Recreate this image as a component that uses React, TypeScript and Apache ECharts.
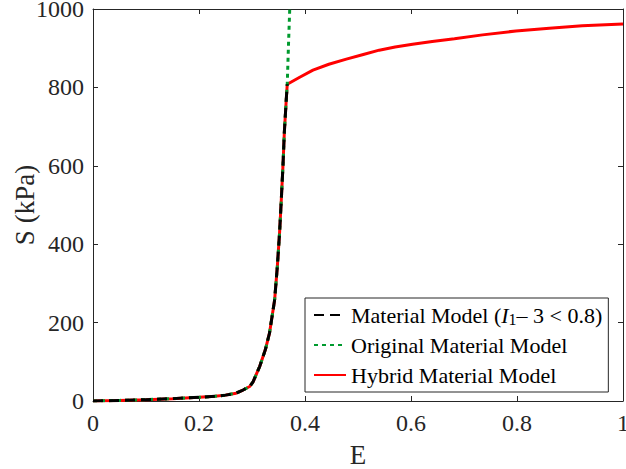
import React, { useEffect, useRef } from "react";
import * as echarts from "echarts";

// Shared part of the curve (Material Model, valid for I1 - 3 < 0.8)
const strainBase = [0, 0.05, 0.1, 0.15, 0.2, 0.23, 0.25, 0.27, 0.283, 0.2957, 0.302, 0.3145, 0.325, 0.333, 0.3427, 0.3478, 0.352, 0.3553, 0.3584, 0.361, 0.3647, 0.3665];
const stressBase = [0, 1.5, 3.5, 6, 9.4, 12, 15, 20, 28, 37, 49, 88, 130, 173, 258, 343, 429, 514, 599, 685, 770, 808];

// Original material model continues steeply
const strainOriginalTail = [0.369, 0.3712];
const stressOriginalTail = [915, 1000];

// Hybrid material model saturates
const strainHybridTail = [0.39, 0.415, 0.445, 0.478, 0.51, 0.54, 0.57, 0.603, 0.64, 0.682, 0.735, 0.798, 0.861, 0.923, 1.0];
const stressHybridTail = [826, 844, 859, 872, 884, 895, 903, 910, 917, 924, 934, 944, 951, 957, 962];

const xTicks = [0, 0.2, 0.4, 0.6, 0.8, 1];
const yTicks = [0, 200, 400, 600, 800, 1000];

const seriesNames = ["Material Model", "Original Material Model", "Hybrid Material Model"];

const zip = (xs: number[], ys: number[]) => xs.map((x, i) => [x, ys[i]]);

const FONT = "Liberation Serif, Times New Roman, serif";
const AX = "#262626";

function makeAxis(extra: any) {
  return {
    type: "value",
    axisLine: { show: true, onZero: false, lineStyle: { color: AX, width: 1 } },
    axisTick: { show: true, inside: true, length: 5, lineStyle: { color: AX, width: 1 } },
    splitLine: { show: false },
    nameMoveOverlap: false,
    ...extra,
  };
}

export default function App() {
  const ref = useRef<HTMLDivElement>(null);
  useEffect(() => {
    if (!ref.current) return;
    const chart = echarts.init(ref.current, undefined, { renderer: "svg" });
    const base = zip(strainBase, stressBase);
    chart.setOption({
      animation: false,
      textStyle: { fontFamily: FONT },
      grid: { left: 93, right: 3, top: 9, bottom: 68, containLabel: false, outerBoundsMode: "none" },
      xAxis: [
        makeAxis({
          min: xTicks[0],
          max: xTicks[xTicks.length - 1],
          interval: 0.2,
          name: "E",
          nameLocation: "middle",
          nameGap: 40,
          nameTextStyle: { fontFamily: FONT, fontSize: 27, color: AX },
          axisLabel: { show: true, fontFamily: FONT, fontSize: 24, color: AX, margin: 10, formatter: (v: number) => String(v) },
        }),
        makeAxis({
          position: "top",
          min: xTicks[0],
          max: xTicks[xTicks.length - 1],
          interval: 0.2,
          axisLabel: { show: false },
        }),
      ],
      yAxis: [
        makeAxis({
          position: "left",
          min: yTicks[0],
          max: yTicks[yTicks.length - 1],
          interval: 200,
          name: "S (kPa)",
          nameLocation: "middle",
          nameGap: 55,
          nameTextStyle: { fontFamily: FONT, fontSize: 27, color: AX },
          axisLabel: { show: true, fontFamily: FONT, fontSize: 24, color: AX, margin: 9, formatter: (v: number) => String(v) },
        }),
        makeAxis({
          position: "right",
          min: yTicks[0],
          max: yTicks[yTicks.length - 1],
          interval: 200,
          axisLabel: { show: false },
        }),
      ],
      legend: {
        orient: "vertical",
        left: 305,
        top: 298,
        data: seriesNames,
        formatter: (name: string) =>
          name === seriesNames[0] ? "Material Model ({it|I}{sub|1}– 3 < 0.8)" : name,
        itemWidth: 32,
        itemHeight: 14,
        itemGap: 6,
        itemTextGap: 7,
        itemStyle: { opacity: 0 },
        backgroundColor: "#fff",
        borderColor: AX,
        borderWidth: 1,
        borderRadius: 0,
        padding: [5, 6, 5, 8],
        textStyle: {
          fontFamily: FONT,
          fontSize: 22,
          lineHeight: 24,
          color: "#000",
          rich: {
            it: { fontFamily: FONT, fontSize: 22, lineHeight: 24, fontStyle: "italic", color: "#000" },
            sub: { fontFamily: FONT, fontSize: 16, lineHeight: 6, verticalAlign: "bottom", color: "#000" },
          },
        },
      },
      series: [
        {
          name: seriesNames[2],
          type: "line",
          symbol: "none",
          clip: true,
          data: [...base, ...zip(strainHybridTail, stressHybridTail)],
          lineStyle: { color: "#ff0000", width: 3, type: "solid" },
          itemStyle: { color: "#ff0000" },
          z: 2,
        },
        {
          name: seriesNames[1],
          type: "line",
          symbol: "none",
          clip: true,
          data: [...base, ...zip(strainOriginalTail, stressOriginalTail)],
          lineStyle: { color: "#009a2e", width: 3, type: [4, 4] },
          itemStyle: { color: "#009a2e" },
          z: 3,
        },
        {
          name: seriesNames[0],
          type: "line",
          symbol: "none",
          clip: true,
          data: base,
          lineStyle: { color: "#000000", width: 3, type: [10, 6] },
          itemStyle: { color: "#000000" },
          z: 4,
        },
      ],
    });
    return () => chart.dispose();
  }, []);
  return <div ref={ref} style={{ width: 626, height: 469, position: "absolute", left: 0, top: 0 }} />;
}
